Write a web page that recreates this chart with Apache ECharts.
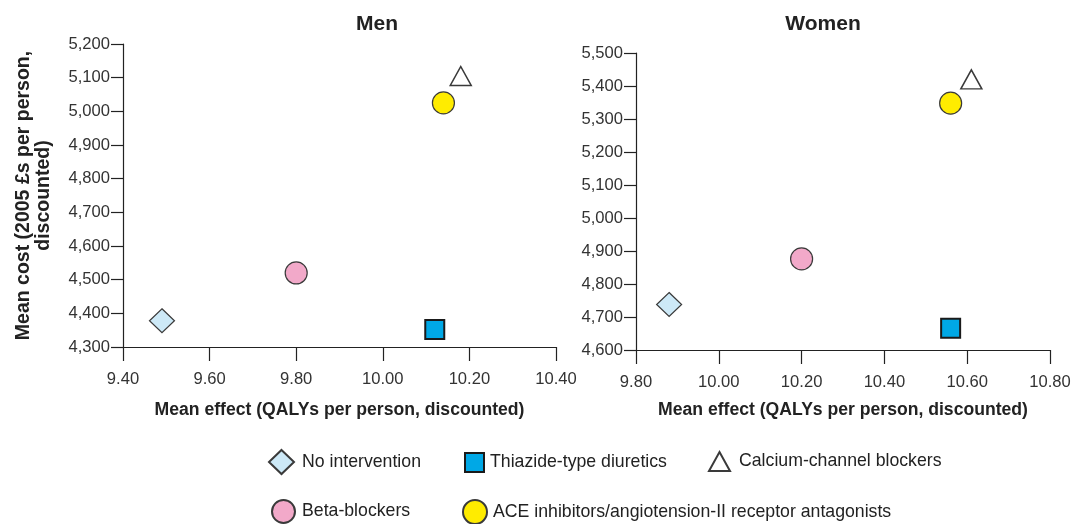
<!DOCTYPE html>
<html>
<head>
<meta charset="utf-8">
<script src="https://cdn.jsdelivr.net/npm/echarts@6/dist/echarts.min.js"></script>
<style>
  html, body { margin: 0; padding: 0; background: #fff; }
  #chart { width: 1084px; height: 524px; }
</style>
</head>
<body>
<div id="chart"></div>
<script>
// ---- data ----
const categories = [
  'No intervention',
  'Thiazide-type diuretics',
  'Calcium-channel blockers',
  'Beta-blockers',
  'ACE inhibitors/angiotension-II receptor antagonists'
];
const menEffect   = [9.49, 10.12, 10.18, 9.80, 10.14];
const menCost     = [4378, 4352, 5105, 4520, 5025];
const womenEffect = [9.88, 10.56, 10.61, 10.20, 10.56];
const womenCost   = [4738, 4666, 5420, 4876, 5348];
const panelTitles = ['Men', 'Women'];
const xAxisTitle = 'Mean effect (QALYs per person, discounted)';
const yAxisTitle = 'Mean cost (2005 £s per person,\ndiscounted)';

// ---- styles ----
const FONT = '"Liberation Sans", Arial, Helvetica, sans-serif';
const markerStyles = [
  { symbol: 'diamond',  size: [25, 24], color: '#cde9f7', border: '#3a3a3a', bw: 1.2 },
  { symbol: 'rect',     size: [19, 19], color: '#00a8e6', border: '#1a1a1a', bw: 2 },
  { symbol: 'triangle', size: [21, 19], color: '#ffffff', border: '#3a3a3a', bw: 1.5 },
  { symbol: 'circle',   size: 22,       color: '#f2a9c9', border: '#3a3a3a', bw: 1.2 },
  { symbol: 'circle',   size: 22,       color: '#ffec00', border: '#3a3a3a', bw: 1.2 }
];
const legendPos = [
  { left: 268, top: 449, w: 25, h: 24, gap: 8 },
  { left: 464, top: 452, w: 19, h: 19, gap: 6 },
  { left: 708, top: 451, w: 21, h: 19, gap: 9 },
  { left: 271, top: 499, w: 23, h: 23, gap: 7 },
  { left: 462, top: 499, w: 24, h: 24, gap: 6 }
];

const fmtThousands = v => String(v).replace(/\B(?=(\d{3})+(?!\d))/g, ',');

function xAxisCfg(gridIndex, min, max, nameGap) {
  return {
    type: 'value', gridIndex, min, max, interval: 0.2,
    name: xAxisTitle, nameLocation: 'middle', nameGap,
    nameTextStyle: { fontFamily: FONT, fontWeight: 'bold', fontSize: 17.6, color: '#222', verticalAlign: 'top' },
    axisLine: { show: true, onZero: false, lineStyle: { color: '#222', width: 1.2 } },
    axisTick: { show: true, length: 14, lineStyle: { color: '#222', width: 1.2 } },
    axisLabel: { fontFamily: FONT, fontSize: 16.6, color: '#333', margin: 24,
      formatter: v => v.toFixed(2) },
    splitLine: { show: false }
  };
}
function yAxisCfg(gridIndex, min, max, withName) {
  const c = {
    type: 'value', gridIndex, min, max, interval: 100,
    axisLine: { show: true, onZero: false, lineStyle: { color: '#222', width: 1.2 } },
    axisTick: { show: true, length: 12, lineStyle: { color: '#222', width: 1.2 } },
    axisLabel: { fontFamily: FONT, fontSize: 16.6, color: '#333', margin: 13, formatter: fmtThousands },
    splitLine: { show: false }
  };
  if (withName) {
    c.name = yAxisTitle;
    c.nameLocation = 'middle';
    c.nameGap = 69;
    c.nameTextStyle = { fontFamily: FONT, fontWeight: 'bold', fontSize: 19.5, color: '#222', lineHeight: 20 };
  }
  return c;
}

const series = [];
categories.forEach((name, i) => {
  const m = markerStyles[i];
  const common = {
    type: 'scatter', name, symbol: m.symbol, symbolSize: m.size,
    itemStyle: { color: m.color, borderColor: m.border, borderWidth: m.bw, opacity: 1 },
    emphasis: { disabled: true }
  };
  series.push(Object.assign({}, common, { xAxisIndex: 0, yAxisIndex: 0, data: [[menEffect[i], menCost[i]]] }));
  series.push(Object.assign({}, common, { xAxisIndex: 1, yAxisIndex: 1, data: [[womenEffect[i], womenCost[i]]] }));
});

const legends = categories.map((name, i) => ({
  data: [name], left: legendPos[i].left, top: legendPos[i].top,
  itemWidth: legendPos[i].w, itemHeight: legendPos[i].h, padding: 0,
  selectedMode: false,
  textStyle: { fontFamily: FONT, fontSize: 17.7, color: '#222', padding: [0, 0, 0, legendPos[i].gap - 5] }
}));

const option = {
  animation: false,
  backgroundColor: '#ffffff',
  title: [
    { text: panelTitles[0], left: 372, top: 9, textAlign: 'center',
      textStyle: { fontFamily: FONT, fontWeight: 'bold', fontSize: 21, color: '#222' } },
    { text: panelTitles[1], left: 818, top: 9, textAlign: 'center',
      textStyle: { fontFamily: FONT, fontWeight: 'bold', fontSize: 21, color: '#222' } }
  ],
  grid: [
    { left: 123, top: 44, width: 433, height: 303 },
    { left: 636, top: 53, width: 414, height: 297 }
  ],
  xAxis: [xAxisCfg(0, 9.4, 10.4, 54), xAxisCfg(1, 9.8, 10.8, 51)],
  yAxis: [yAxisCfg(0, 4300, 5200, true), yAxisCfg(1, 4600, 5500, false)],
  legend: legends,
  series
};

const chart = echarts.init(document.getElementById('chart'), null, { renderer: 'canvas' });
chart.setOption(option);
</script>
</body>
</html>
